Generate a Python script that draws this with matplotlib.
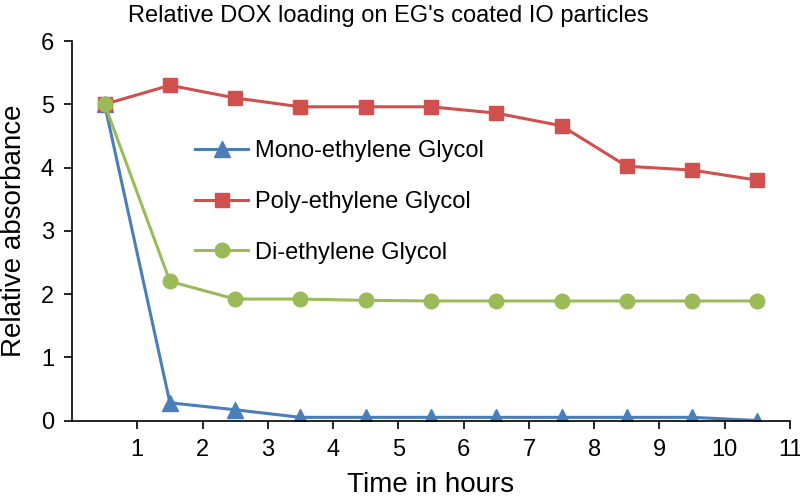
import matplotlib.pyplot as plt

# data
hours = [0.5, 1.5, 2.5, 3.5, 4.5, 5.5, 6.5, 7.5, 8.5, 9.5, 10.5]
mono = [5.0, 0.28, 0.17, 0.05, 0.05, 0.05, 0.05, 0.05, 0.05, 0.05, 0.0]
poly = [5.0, 5.30, 5.10, 4.96, 4.96, 4.96, 4.86, 4.66, 4.02, 3.96, 3.80]
di = [5.0, 2.20, 1.92, 1.92, 1.90, 1.89, 1.89, 1.89, 1.89, 1.89, 1.89]

plt.rcParams['font.family'] = ['Liberation Sans', 'DejaVu Sans']

fig = plt.figure(figsize=(8, 4.98), dpi=100)
ax = fig.add_axes([0.09, 0.1556, 0.8975, 0.762])

ax.plot(hours, mono, color='#4a7ebb', lw=2.2, marker='^', ms=11, label='Mono-ethylene Glycol')
ax.plot(hours, poly, color='#d0504d', lw=2.2, marker='s', ms=10.5, label='Poly-ethylene Glycol')
ax.plot(hours, di, color='#9bbb59', lw=2.2, marker='o', ms=10.5, label='Di-ethylene Glycol')

ax.set_xlim(0, 11)
ax.set_ylim(0, 6)
ax.set_xticks(range(1, 12))
ax.set_yticks(range(0, 7))
ax.tick_params(labelsize=17, length=6, width=1.2, pad=7)
for s in ['left', 'bottom']:
    ax.spines[s].set_linewidth(1.2)
ax.spines['top'].set_visible(False)
ax.spines['right'].set_visible(False)

ax.set_xlabel('Time in hours', fontsize=20, labelpad=8)
ax.set_ylabel('Relative absorbance', fontsize=20, labelpad=10)
fig.text(0.486, 0.955, "Relative DOX loading on EG's coated IO particles",
         fontsize=17, ha='center', va='baseline')

ax.legend(loc='upper left', bbox_to_anchor=(195 / 800, 1 - 140 / 498),
          bbox_transform=fig.transFigure, frameon=False, borderpad=0,
          borderaxespad=0, fontsize=17, handlelength=2.25, handletextpad=0.3,
          labelspacing=1.22)

plt.savefig('out.png', dpi=100)
